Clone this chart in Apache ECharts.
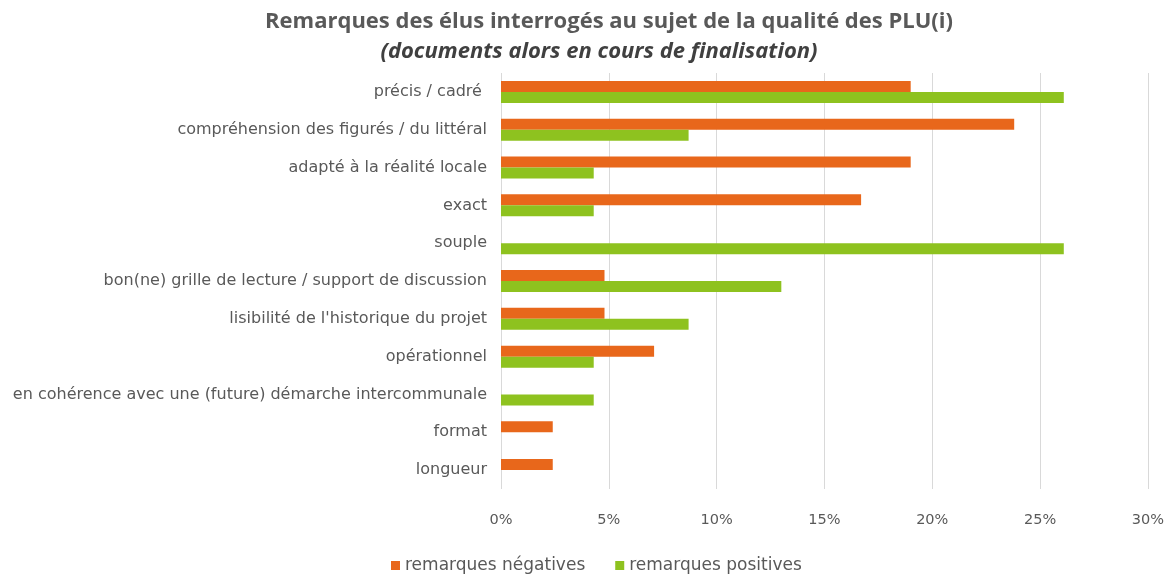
<!DOCTYPE html>
<html>
<head>
<meta charset="utf-8">
<script src="https://cdn.jsdelivr.net/npm/echarts@6/dist/echarts.min.js"></script>
<style>
  html, body { margin: 0; padding: 0; background: #fff; }
  #chart { width: 1167px; height: 574px; }
</style>
</head>
<body>
<div id="chart"></div>
<script>
// Remarks of interviewed elected officials about PLU(i) quality (% of remarks)
const categories = [
  'précis / cadré ',
  'compréhension des figurés / du littéral',
  'adapté à la réalité locale',
  'exact',
  'souple',
  'bon(ne) grille de lecture / support de discussion',
  'lisibilité de l\'historique du projet',
  'opérationnel',
  'en cohérence avec une (future) démarche intercommunale',
  'format',
  'longueur'
];
const negatives = [19.0, 23.8, 19.0, 16.7, 0, 4.8, 4.8, 7.1, 0, 2.4, 2.4];
const positives = [26.1, 8.7, 4.3, 4.3, 26.1, 13.0, 8.7, 4.3, 4.3, 0, 0];
const seriesNames = ['remarques négatives', 'remarques positives'];
const xTicks = { min: 0, max: 30, interval: 5 };

const labelColor = '#595959';
const chart = echarts.init(document.getElementById('chart'), null, { renderer: 'canvas' });

chart.setOption({
  backgroundColor: '#ffffff',
  animation: false,
  title: [
    {
      text: 'Remarques des élus interrogés au sujet de la qualité des PLU(i)',
      left: 604,
      textAlign: 'center',
      top: 6,
      textStyle: { fontFamily: 'Open Sans', fontSize: 22, fontWeight: 'bold', color: '#595959' }
    },
    {
      text: '(documents alors en cours de finalisation)',
      left: 594,
      textAlign: 'center',
      top: 36,
      textStyle: { fontFamily: 'Open Sans', fontSize: 22, fontWeight: 'bold', fontStyle: 'italic', color: '#404040' }
    }
  ],
  legend: {
    data: seriesNames,
    top: 552,
    left: 386,
    icon: 'rect',
    itemWidth: 9,
    itemHeight: 9,
    itemGap: 30,
    textStyle: { fontFamily: 'DejaVu Sans', fontSize: 17, color: labelColor }
  },
  grid: { left: 501, right: 17, top: 73, bottom: 85, containLabel: false },
  xAxis: {
    type: 'value',
    min: xTicks.min,
    max: xTicks.max,
    interval: xTicks.interval,
    axisLine: { show: false },
    axisTick: { show: false },
    splitLine: { show: true, lineStyle: { color: '#d9d9d9', width: 1 } },
    axisLabel: {
      formatter: '{value}%',
      margin: 24,
      fontFamily: 'DejaVu Sans',
      fontSize: 14.5,
      color: labelColor
    }
  },
  yAxis: {
    type: 'category',
    data: categories,
    inverse: true,
    axisLine: { show: false },
    axisTick: { show: false },
    axisLabel: {
      margin: 14,
      fontFamily: 'DejaVu Sans',
      fontSize: 16,
      color: labelColor
    }
  },
  series: [
    {
      name: seriesNames[0],
      type: 'bar',
      data: negatives,
      barWidth: 11,
      barGap: '0%',
      itemStyle: { color: '#E8671B' }
    },
    {
      name: seriesNames[1],
      type: 'bar',
      data: positives,
      barWidth: 11,
      barGap: '0%',
      itemStyle: { color: '#8EC21F' }
    }
  ]
});
</script>
</body>
</html>
